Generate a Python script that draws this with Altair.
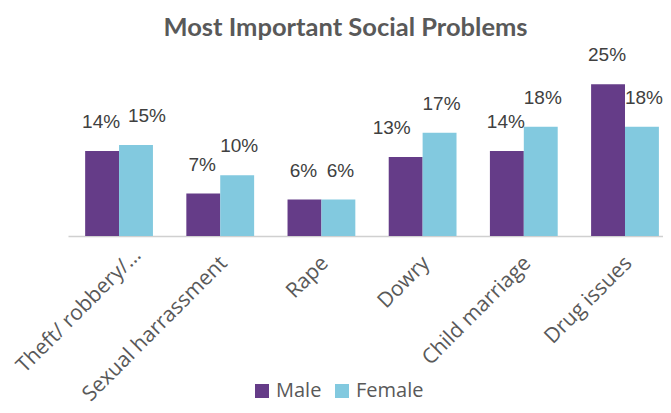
import altair as alt
import pandas as pd

categories = ["Theft/ robbery/…", "Sexual harrassment", "Rape", "Dowry", "Child marriage", "Drug issues"]
male = [14, 7, 6, 13, 14, 25]
female = [15, 10, 6, 17, 18, 18]
series = ["Male", "Female"]
colors = ["#653C88", "#82C9DF"]

rows = []
for c, m, f in zip(categories, male, female):
    rows.append({"category": c, "gender": "Male", "value": m})
    rows.append({"category": c, "gender": "Female", "value": f})
df = pd.DataFrame(rows)
df["label"] = df["value"].astype(str) + "%"

first_cat = f"datum.value === '{categories[0]}'"

x_enc = alt.X(
    "category:N",
    sort=categories,
    scale=alt.Scale(paddingInner=0.33, paddingOuter=0.105, align=0.807),
    axis=alt.Axis(
        title=None,
        labelAngle=-45,
        labelFont="Open Sans",
        labelFontSize=21,
        labelColor="#595959",
        labelPadding=alt.condition(first_cat, alt.value(8), alt.value(16)),
        labelOffset=alt.condition(first_cat, alt.value(11), alt.value(-4)),
        labelLimit=400,
        ticks=False,
        domainColor="#d0d0d0",
        domainWidth=1.5,
        grid=False,
    ),
)
xoff = alt.XOffset("gender:N", sort=series, scale=alt.Scale(paddingInner=0, paddingOuter=0))
y_enc = alt.Y("value:Q", scale=alt.Scale(domain=[0, 28]), axis=None)

base = alt.Chart(df)

bars = base.mark_bar().encode(
    x=x_enc,
    xOffset=xoff,
    y=y_enc,
    color=alt.Color(
        "gender:N",
        sort=series,
        scale=alt.Scale(domain=series, range=colors),
        legend=alt.Legend(
            title=None,
            orient="none",
            direction="horizontal",
            legendX=184,
            legendY=315,
            symbolType="square",
            symbolSize=196,
            symbolStrokeWidth=0,
            labelFont="Open Sans",
            labelFontSize=20,
            labelColor="#595959",
            labelOffset=4,
            columnPadding=10,
        ),
    ),
)

def label_layer(g, dx_expr):
    return base.transform_filter(alt.datum.gender == g).mark_text(
        font="Liberation Sans",
        fontSize=19,
        color="#404040",
        baseline="middle",
        dy=-29,
        dx=alt.expr(dx_expr),
    ).encode(x=x_enc, xOffset=xoff, y=y_enc, text="label:N")

male_dx = f"datum.category === '{categories[3]}' ? -14 : -1"
female_dx = f"datum.category === '{categories[0]}' ? 11 : 2"

chart = alt.layer(bars, label_layer("Male", male_dx), label_layer("Female", female_dx)).properties(
    width=595,
    height=170,
    padding={"left": 60, "top": 58, "right": 0, "bottom": 169},
    autosize=alt.AutoSizeParams(type="none"),
    title=alt.TitleParams(
        "Most Important Social Problems",
        font="Lato",
        fontSize=25.5,
        fontWeight="bold",
        color="#595959",
        anchor="middle",
        frame="group",
        dx=-20,
        offset=5,
    ),
).configure_view(stroke=None)

chart.save("out.html", embed_options={"renderer": "svg", "actions": False})
